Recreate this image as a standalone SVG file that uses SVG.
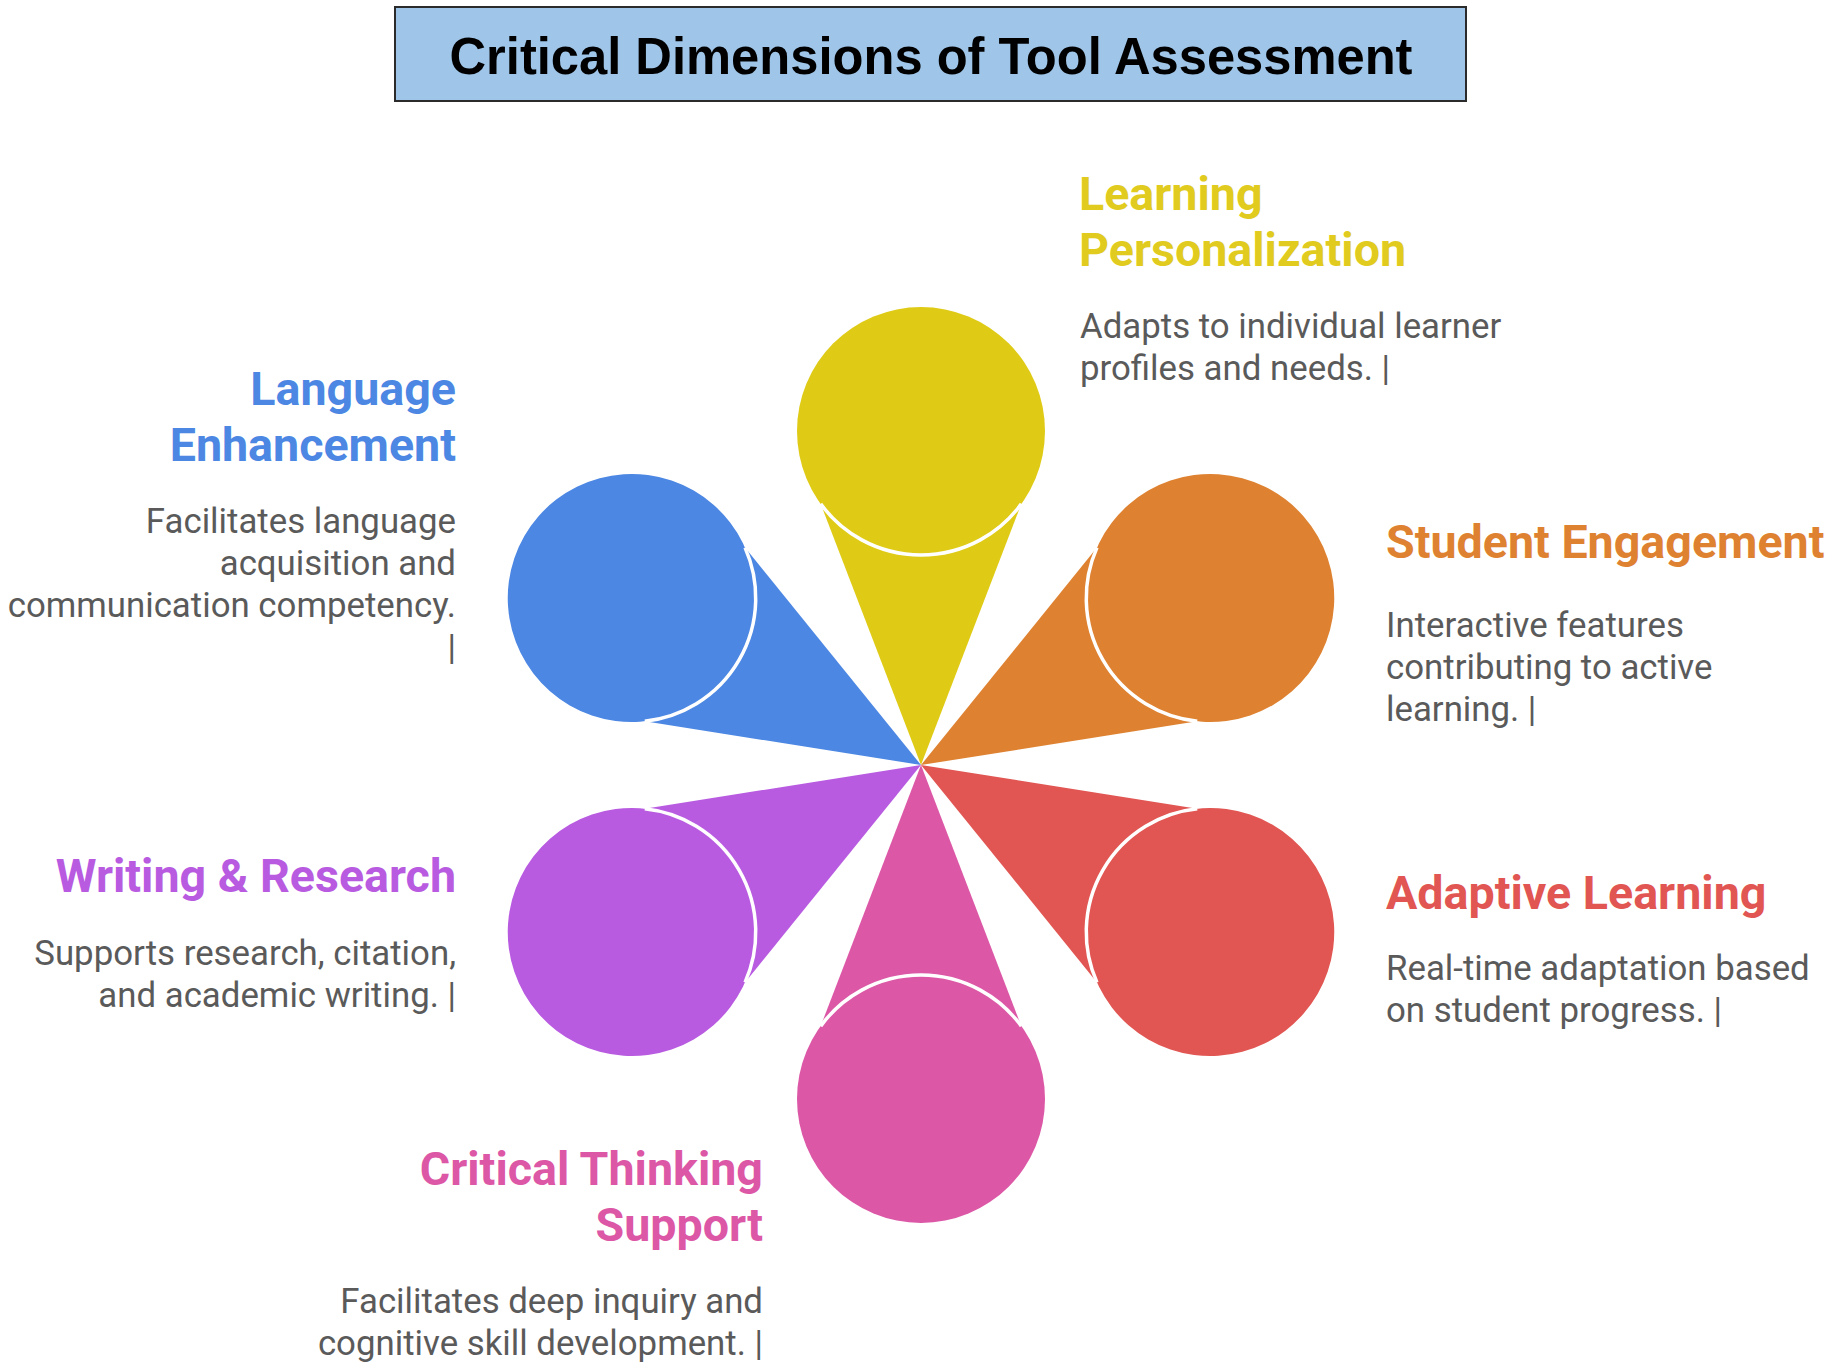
<svg xmlns="http://www.w3.org/2000/svg" xmlns:xlink="http://www.w3.org/1999/xlink" width="1831" height="1371" viewBox="0 0 1831 1371">
  <style>
    .ttl { font-family: "Liberation Sans", Arial, sans-serif; font-weight: 700; font-size: 52px; fill: #000; }
    .head { font-family: Roboto, "Noto Sans", sans-serif; font-weight: 700; font-size: 46.6px; }
    .desc { font-family: Roboto, "Noto Sans", sans-serif; font-weight: 400; font-size: 34.8px; fill: #5a5a5a; }
    .end { text-anchor: end; }
  </style>
  <defs>
    <g id="petal">
      <polygon points="921,765 820.7,503.9 1021.3,503.9"/>
      <circle cx="921" cy="431" r="124"/>
      <path d="M820.7,503.9 A124,124 0 0 0 1021.3,503.9" fill="none" stroke="#ffffff" stroke-width="3.5"/>
    </g>
  </defs>
  <rect width="1831" height="1371" fill="#ffffff"/>

  <g id="title">
    <rect x="395" y="7" width="1071" height="94" fill="#9fc5e8" stroke="#2b2b2b" stroke-width="2"/>
    <text class="ttl" x="931" y="74" text-anchor="middle" textLength="963" lengthAdjust="spacingAndGlyphs">Critical Dimensions of Tool Assessment</text>
  </g>

  <g id="learning-personalization">
    <use xlink:href="#petal" fill="#dfcb16"/>
    <text class="head" fill="#e0cb1e" x="1079" y="210">Learning</text>
    <text class="head" fill="#e0cb1e" x="1079" y="266">Personalization</text>
    <text class="desc" x="1080" y="338">Adapts to individual learner</text>
    <text class="desc" x="1080" y="380">profiles and needs. |</text>
  </g>

  <g id="student-engagement">
    <use xlink:href="#petal" fill="#de8231" transform="rotate(60 921 765)"/>
    <text class="head" fill="#de8231" x="1386" y="558">Student Engagement</text>
    <text class="desc" x="1386" y="637">Interactive features</text>
    <text class="desc" x="1386" y="679">contributing to active</text>
    <text class="desc" x="1386" y="721">learning. |</text>
  </g>

  <g id="adaptive-learning">
    <use xlink:href="#petal" fill="#e15652" transform="rotate(120 921 765)"/>
    <text class="head" fill="#e15652" x="1386" y="909">Adaptive Learning</text>
    <text class="desc" x="1386" y="980">Real-time adaptation based</text>
    <text class="desc" x="1386" y="1022">on student progress. |</text>
  </g>

  <g id="critical-thinking-support">
    <use xlink:href="#petal" fill="#dc57a6" transform="rotate(180 921 765)"/>
    <text class="head end" fill="#dc57a6" x="763" y="1185">Critical Thinking</text>
    <text class="head end" fill="#dc57a6" x="763" y="1241">Support</text>
    <text class="desc end" x="763" y="1313">Facilitates deep inquiry and</text>
    <text class="desc end" x="763" y="1355">cognitive skill development. |</text>
  </g>

  <g id="writing-research">
    <use xlink:href="#petal" fill="#b85be1" transform="rotate(240 921 765)"/>
    <text class="head end" fill="#b85be1" x="456" y="892">Writing &amp; Research</text>
    <text class="desc end" x="456" y="965">Supports research, citation,</text>
    <text class="desc end" x="456" y="1007">and academic writing. |</text>
  </g>

  <g id="language-enhancement">
    <use xlink:href="#petal" fill="#4c87e3" transform="rotate(300 921 765)"/>
    <text class="head end" fill="#4c87e3" x="456" y="405">Language</text>
    <text class="head end" fill="#4c87e3" x="456" y="461">Enhancement</text>
    <text class="desc end" x="456" y="533">Facilitates language</text>
    <text class="desc end" x="456" y="575">acquisition and</text>
    <text class="desc end" x="456" y="617">communication competency.</text>
    <text class="desc end" x="456" y="659">|</text>
  </g>
</svg>
